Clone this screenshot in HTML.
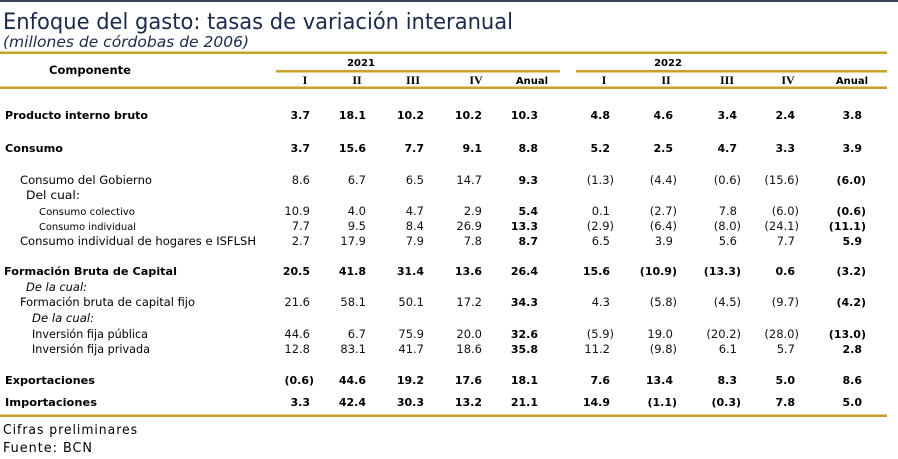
<!DOCTYPE html>
<html><head><meta charset="utf-8"><style>
html,body{margin:0;padding:0;background:#fff;}
svg{display:block;}
.t{font-family:"DejaVu Sans","Liberation Sans",sans-serif;fill:#000;}
.b{font-weight:bold;}
.n{font-family:"DejaVu Sans","Liberation Sans",sans-serif;font-size:11.5px;fill:#111;text-anchor:end;}
.nb{font-family:"DejaVu Sans","Liberation Sans",sans-serif;font-size:11px;font-weight:bold;fill:#000;text-anchor:end;}
.r{font-family:"Liberation Serif",serif;font-weight:bold;font-size:12px;text-anchor:middle;}
</style></head><body>
<svg width="898" height="459" viewBox="0 0 898 459" xmlns="http://www.w3.org/2000/svg">
<rect x="0" y="0" width="898" height="2" fill="#3b4453"/>
<text x="3" y="29" textLength="510" lengthAdjust="spacingAndGlyphs" style="font-family:'DejaVu Sans','Liberation Sans',sans-serif;font-size:22px;fill:#1b2a4a">Enfoque del gasto: tasas de variación interanual</text>
<text x="3" y="47" textLength="246" lengthAdjust="spacingAndGlyphs" style="font-family:'DejaVu Sans','Liberation Sans',sans-serif;font-size:15px;font-style:italic;fill:#1b2a4a">(millones de córdobas de 2006)</text>
<g fill="#c8a02a">
<rect x="0" y="51.5" width="887" height="2.5"/>
<rect x="276" y="70" width="284" height="2.5"/>
<rect x="576" y="70" width="311" height="2.5"/>
<rect x="0" y="86.5" width="887" height="2.5"/>
<rect x="0" y="414.5" width="887" height="2.5"/>
</g>
<text class="t b" x="90" y="74" text-anchor="middle" font-size="11.5">Componente</text>
<text class="t b" x="361" y="66" text-anchor="middle" font-size="10">2021</text>
<text class="t b" x="668" y="66" text-anchor="middle" font-size="10">2022</text>
<g>
<text class="r" x="305" y="84">I</text><text class="r" x="357" y="84">II</text><text class="r" x="413" y="84">III</text><text class="r" x="476" y="84">IV</text>
<text class="t b" x="532" y="84" text-anchor="middle" font-size="10">Anual</text>
<text class="r" x="604" y="84">I</text><text class="r" x="666" y="84">II</text><text class="r" x="727" y="84">III</text><text class="r" x="788" y="84">IV</text>
<text class="t b" x="852" y="84" text-anchor="middle" font-size="10">Anual</text>
</g>

<g class="t">
<text x="5" y="119" class="b" font-size="11" textLength="143" lengthAdjust="spacingAndGlyphs">Producto interno bruto</text>
<text x="5" y="152" class="b" font-size="11" textLength="58" lengthAdjust="spacingAndGlyphs">Consumo</text>
<text x="20" y="184" font-size="11.5" textLength="132" lengthAdjust="spacingAndGlyphs">Consumo del Gobierno</text>
<text x="26" y="199" font-size="11.5" textLength="54" lengthAdjust="spacingAndGlyphs">Del cual:</text>
<text x="39" y="215" font-size="10" textLength="96" lengthAdjust="spacingAndGlyphs">Consumo colectivo</text>
<text x="39" y="230" font-size="10" textLength="97" lengthAdjust="spacingAndGlyphs">Consumo individual</text>
<text x="20" y="245" font-size="11.5" textLength="236" lengthAdjust="spacingAndGlyphs">Consumo individual de hogares e ISFLSH</text>
<text x="4" y="275" class="b" font-size="11" textLength="173" lengthAdjust="spacingAndGlyphs">Formación Bruta de Capital</text>
<text x="26" y="291" font-size="11.5" font-style="italic" textLength="61" lengthAdjust="spacingAndGlyphs">De la cual:</text>
<text x="20" y="306" font-size="11.5" textLength="175" lengthAdjust="spacingAndGlyphs">Formación bruta de capital fijo</text>
<text x="32" y="322" font-size="11.5" font-style="italic" textLength="62" lengthAdjust="spacingAndGlyphs">De la cual:</text>
<text x="32" y="338" font-size="11.5" textLength="116" lengthAdjust="spacingAndGlyphs">Inversión fija pública</text>
<text x="32" y="353" font-size="11.5" textLength="118" lengthAdjust="spacingAndGlyphs">Inversión fija privada</text>
<text x="5" y="384" class="b" font-size="11" textLength="90" lengthAdjust="spacingAndGlyphs">Exportaciones</text>
<text x="5" y="406" class="b" font-size="11" textLength="92" lengthAdjust="spacingAndGlyphs">Importaciones</text>
<text x="3" y="434" font-size="13" textLength="135" lengthAdjust="spacingAndGlyphs" letter-spacing="1">Cifras preliminares</text>
<text x="3" y="452" font-size="13" textLength="90" lengthAdjust="spacingAndGlyphs" letter-spacing="1">Fuente: BCN</text>
</g>

<g class="nb">
<text x="310" y="119">3.7</text><text x="366" y="119">18.1</text><text x="424" y="119">10.2</text><text x="482" y="119">10.2</text><text x="538" y="119">10.3</text>
<text x="610" y="119">4.8</text><text x="673" y="119">4.6</text><text x="737" y="119">3.4</text><text x="795" y="119">2.4</text><text x="862" y="119">3.8</text>
<text x="310" y="152">3.7</text><text x="366" y="152">15.6</text><text x="424" y="152">7.7</text><text x="482" y="152">9.1</text><text x="538" y="152">8.8</text>
<text x="610" y="152">5.2</text><text x="673" y="152">2.5</text><text x="737" y="152">4.7</text><text x="795" y="152">3.3</text><text x="862" y="152">3.9</text>
<text x="310" y="275">20.5</text><text x="366" y="275">41.8</text><text x="424" y="275">31.4</text><text x="482" y="275">13.6</text><text x="538" y="275">26.4</text>
<text x="610" y="275">15.6</text><text x="677" y="275">(10.9)</text><text x="741" y="275">(13.3)</text><text x="795" y="275">0.6</text><text x="866" y="275">(3.2)</text>
<text x="314" y="384">(0.6)</text><text x="366" y="384">44.6</text><text x="424" y="384">19.2</text><text x="482" y="384">17.6</text><text x="538" y="384">18.1</text>
<text x="610" y="384">7.6</text><text x="673" y="384">13.4</text><text x="737" y="384">8.3</text><text x="795" y="384">5.0</text><text x="862" y="384">8.6</text>
<text x="310" y="406">3.3</text><text x="366" y="406">42.4</text><text x="424" y="406">30.3</text><text x="482" y="406">13.2</text><text x="538" y="406">21.1</text>
<text x="610" y="406">14.9</text><text x="677" y="406">(1.1)</text><text x="741" y="406">(0.3)</text><text x="795" y="406">7.8</text><text x="862" y="406">5.0</text>
<text x="538" y="184">9.3</text><text x="866" y="184">(6.0)</text>
<text x="538" y="215">5.4</text><text x="866" y="215">(0.6)</text>
<text x="538" y="230">13.3</text><text x="866" y="230">(11.1)</text>
<text x="538" y="245">8.7</text><text x="862" y="245">5.9</text>
<text x="538" y="306">34.3</text><text x="866" y="306">(4.2)</text>
<text x="538" y="338">32.6</text><text x="866" y="338">(13.0)</text>
<text x="538" y="353">35.8</text><text x="862" y="353">2.8</text>
</g>
<g class="n">
<text x="310" y="184">8.6</text><text x="366" y="184">6.7</text><text x="424" y="184">6.5</text><text x="482" y="184">14.7</text>
<text x="614" y="184">(1.3)</text><text x="677" y="184">(4.4)</text><text x="741" y="184">(0.6)</text><text x="799" y="184">(15.6)</text>
<text x="310" y="215">10.9</text><text x="366" y="215">4.0</text><text x="424" y="215">4.7</text><text x="482" y="215">2.9</text>
<text x="610" y="215">0.1</text><text x="677" y="215">(2.7)</text><text x="737" y="215">7.8</text><text x="799" y="215">(6.0)</text>
<text x="310" y="230">7.7</text><text x="366" y="230">9.5</text><text x="424" y="230">8.4</text><text x="482" y="230">26.9</text>
<text x="614" y="230">(2.9)</text><text x="677" y="230">(6.4)</text><text x="741" y="230">(8.0)</text><text x="799" y="230">(24.1)</text>
<text x="310" y="245">2.7</text><text x="366" y="245">17.9</text><text x="424" y="245">7.9</text><text x="482" y="245">7.8</text>
<text x="610" y="245">6.5</text><text x="673" y="245">3.9</text><text x="737" y="245">5.6</text><text x="795" y="245">7.7</text>
<text x="310" y="306">21.6</text><text x="366" y="306">58.1</text><text x="424" y="306">50.1</text><text x="482" y="306">17.2</text>
<text x="610" y="306">4.3</text><text x="677" y="306">(5.8)</text><text x="741" y="306">(4.5)</text><text x="799" y="306">(9.7)</text>
<text x="310" y="338">44.6</text><text x="366" y="338">6.7</text><text x="424" y="338">75.9</text><text x="482" y="338">20.0</text>
<text x="614" y="338">(5.9)</text><text x="673" y="338">19.0</text><text x="741" y="338">(20.2)</text><text x="799" y="338">(28.0)</text>
<text x="310" y="353">12.8</text><text x="366" y="353">83.1</text><text x="424" y="353">41.7</text><text x="482" y="353">18.6</text>
<text x="610" y="353">11.2</text><text x="677" y="353">(9.8)</text><text x="737" y="353">6.1</text><text x="795" y="353">5.7</text>
</g>
</svg>
</body></html>
